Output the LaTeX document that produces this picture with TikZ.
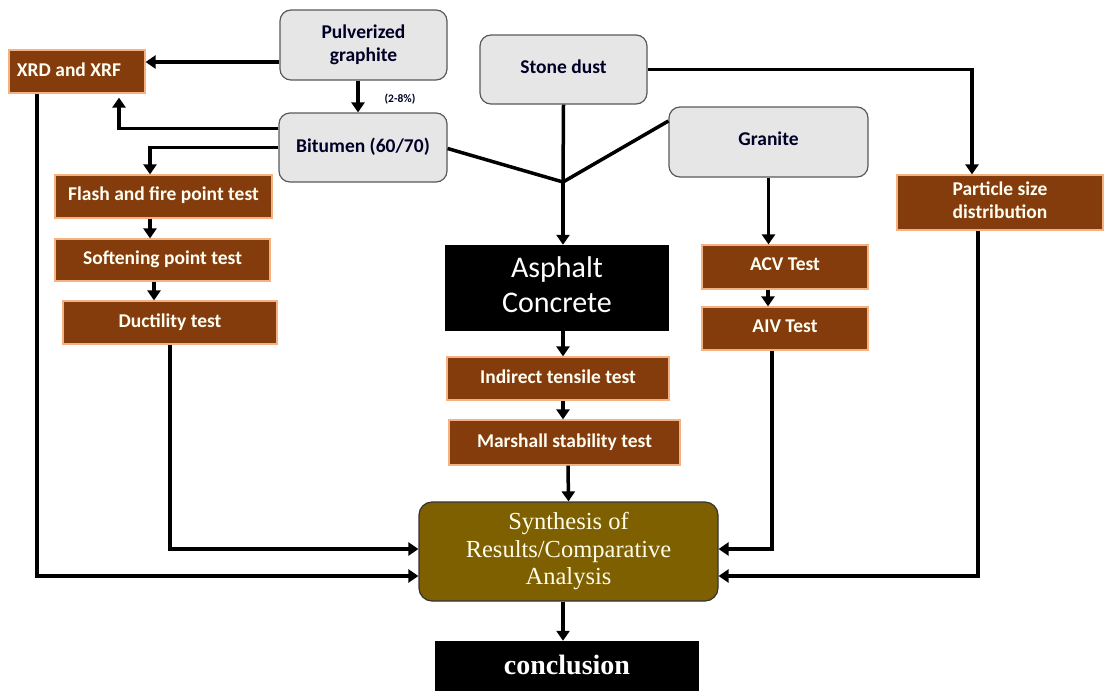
\documentclass[tikz,border=0pt]{standalone}
\usepackage{fontspec}
\setmainfont{Carlito}
\newfontfamily\serifrm{Liberation Serif}
\usetikzlibrary{arrows.meta}
\definecolor{brownbox}{HTML}{843C0C}
\definecolor{brownedge}{HTML}{F4B183}
\definecolor{grayfill}{HTML}{E7E6E6}
\definecolor{grayedge}{HTML}{595959}
\definecolor{olive}{HTML}{7F6000}
\newcommand{\twolines}[3]{\raisebox{#1}{\renewcommand{\arraystretch}{1}\begin{tabular}{@{}c@{}}#2\\#3\end{tabular}}}
\tikzset{
  testbox/.style={draw=brownedge, line width=1.2pt, fill=brownbox, text=white!95!yellow, font=\fontsize{19.5}{23}\selectfont\bfseries, inner sep=0pt, align=center},
  srcbox/.style={draw=grayedge, line width=1.2pt, fill=grayfill, rounded corners=11pt, text=black!85!blue, font=\fontsize{19.5}{23}\selectfont\bfseries, inner sep=0pt, align=center},
  blackbox/.style={fill=black, text=white, inner sep=0pt, align=center},
  conn/.style={line width=3.5pt, black},
  arr/.style={conn, -{Triangle[width=13pt,length=10pt]}},
}
\begin{document}
\begin{tikzpicture}[x=1pt,y=-1pt]
\useasboundingbox (0,0) rectangle (1105,691);
% source boxes
\node[srcbox, minimum width=167pt, minimum height=70pt] (graph) at (363.5,45) {\twolines{4pt}{Pulverized}{graphite}};
\node[srcbox, minimum width=167pt, minimum height=69pt] (stone) at (563.5,69.5) {\raisebox{5pt}{Stone dust}};
\node[srcbox, minimum width=168pt, minimum height=69pt] (bit) at (363,147.5) {\raisebox{4pt}{Bitumen (60/70)}};
\node[srcbox, minimum width=199pt, minimum height=70pt] (gran) at (768.5,142) {\raisebox{6.5pt}{Granite}};
% test boxes
\node[testbox, minimum width=136pt, minimum height=43pt] (xrd) at (77,71.5) {\raisebox{4pt}{XRD and XRF}\hspace*{16pt}};
\node[testbox, minimum width=217pt, minimum height=43pt] (flash) at (163.5,196.5) {\raisebox{6pt}{Flash and fire point test}};
\node[testbox, minimum width=215pt, minimum height=42pt] (soft) at (162.5,260) {\raisebox{4.5pt}{Softening point test}};
\node[testbox, minimum width=214pt, minimum height=43pt] (duct) at (170,322.5) {\raisebox{3pt}{Ductility test}};
\node[testbox, minimum width=206pt, minimum height=55pt] (psd) at (1000,202.5) {\twolines{1.5pt}{Particle size}{distribution}};
\node[testbox, minimum width=166pt, minimum height=44pt] (acv) at (785,267) {\raisebox{5.5pt}{ACV Test}};
\node[testbox, minimum width=166pt, minimum height=43pt] (aiv) at (785,328.5) {\raisebox{5.5pt}{AIV Test}};
\node[testbox, minimum width=222pt, minimum height=43pt] (itt) at (558,378.5) {\raisebox{3pt}{Indirect tensile test}};
\node[testbox, minimum width=231pt, minimum height=45pt] (msh) at (564.5,442.5) {\raisebox{3pt}{Marshall stability test}};
% result boxes
\node[blackbox, minimum width=224pt, minimum height=86pt, font=\fontsize{30}{35}\selectfont] (asph) at (557,288) {\raisebox{2.5pt}{\begin{tabular}{@{}c@{}}Asphalt\\Concrete\end{tabular}}};
\node[draw=black!80, line width=1.2pt, fill=olive, rounded corners=13pt, text=white!92!yellow, inner sep=0pt, align=center, minimum width=299pt, minimum height=99pt, font=\serifrm\fontsize{24.5}{27.5}\selectfont] (syn) at (568.5,551.5) {Synthesis of\\Results/Comparative\\Analysis};
\node[blackbox, minimum width=264pt, minimum height=50pt, font=\serifrm\fontsize{28}{30}\selectfont\bfseries] (conc) at (567,666) {\raisebox{3pt}{conclusion}};
% label
\node[font=\fontsize{11.5}{12}\selectfont\bfseries, text=black!85!blue] (pct) at (400,99) {(2-8\%)};
% connectors
\draw[arr] ([yshift=-17pt]graph.west) -- (xrd.east |- {(0,62)});
\draw[arr] ([xshift=-5.5pt]graph.south) -- ([xshift=-5pt]bit.north);
\draw[arr] ([yshift=19pt]bit.west) -| ([xshift=42pt,yshift=-4pt]xrd.south);
\draw[arr] (bit.west) -| ([xshift=-13.5pt]flash.north);
\draw[arr] ([xshift=-13.5pt]flash.south) -- ([xshift=-12.5pt]soft.north);
\draw[arr] ([xshift=-8.5pt]soft.south) -- ([xshift=-16pt]duct.south |- duct.north);
\draw[arr] (duct.south) |- ([yshift=2.5pt]syn.west);
\draw[arr] ([xshift=-40pt]xrd.south) |- ([yshift=-24.5pt]syn.west);
\coordinate (j) at (563,182);
\draw[conn] ([yshift=-1pt]bit.east) -- (j);
\draw[conn] ([yshift=21pt]gran.west) -- (j);
\draw[conn] (stone.south) -- (j);
\draw[arr] (j) -- (asph.north -| j);
\draw[arr] (stone.east) -| ([xshift=-28pt]psd.north);
\draw[arr] (gran.south) -- (gran.south |- acv.north);
\draw[arr] ([xshift=-17pt]acv.south) -- ([xshift=-17pt]aiv.north);
\draw[arr] ([xshift=-13pt]aiv.south) |- ([yshift=2.5pt]syn.east);
\draw[arr] ([xshift=-22pt]psd.south) |- ([yshift=-24.5pt]syn.east);
\draw[arr] ([xshift=6pt]asph.south) -- ([xshift=6pt]asph.south |- itt.north);
\draw[arr] ([xshift=5pt]itt.south) -- ([xshift=5pt]itt.south |- msh.north);
\draw[arr] ([xshift=3.5pt]msh.south) -- (syn.north);
\draw[arr] ([xshift=-5.5pt]syn.south) -- ([xshift=-4pt]conc.north);
\end{tikzpicture}
\end{document}
